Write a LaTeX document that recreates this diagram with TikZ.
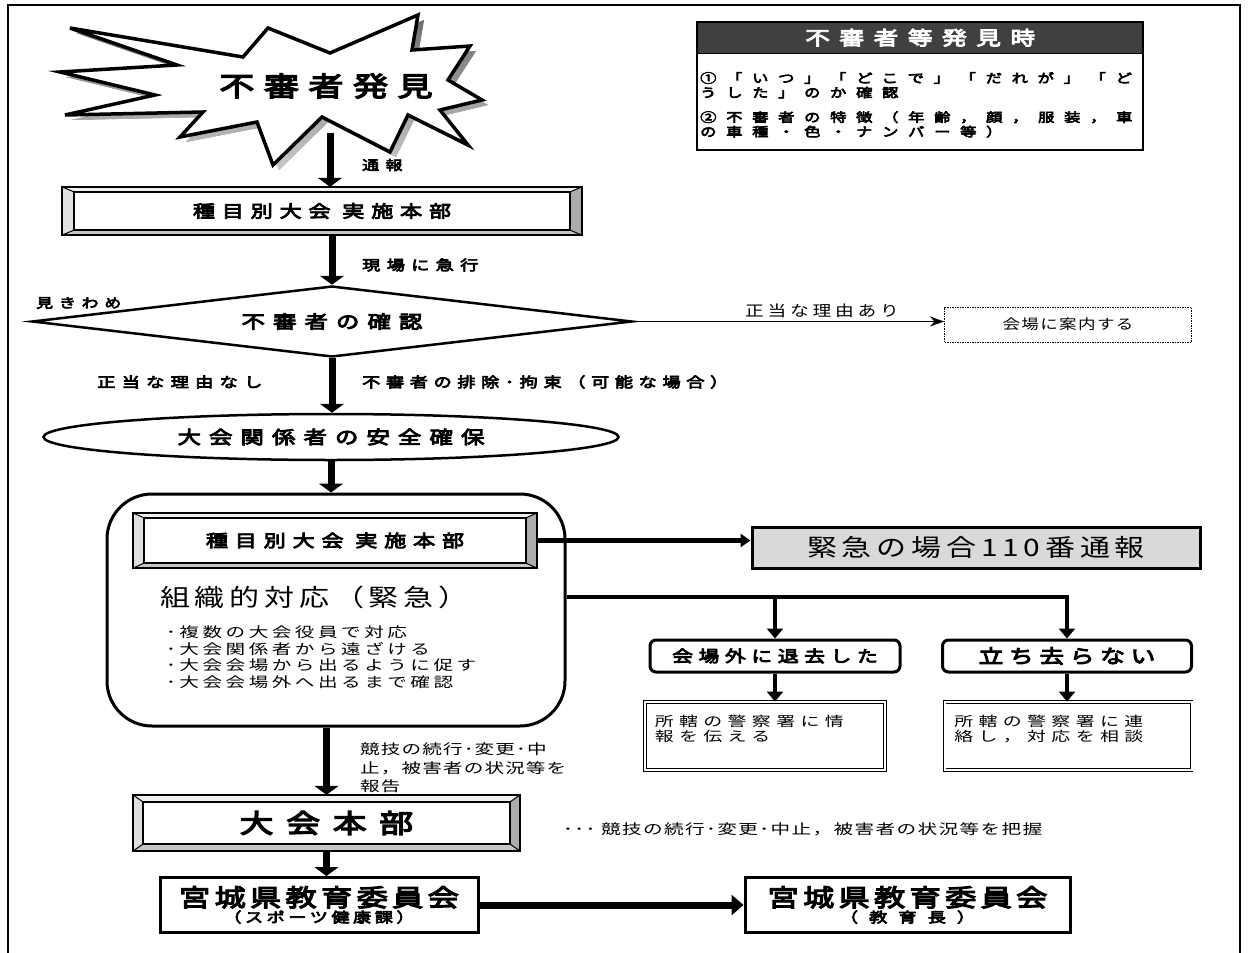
\documentclass[tikz,border=0pt]{standalone}
\usepackage{fontspec}
\usetikzlibrary{arrows.meta,shapes.geometric,calc}
\newcommand\JB[3]{\fontspec[FakeStretch=1.3,FakeBold=5,LetterSpace=#3]{Noto Sans CJK JP}\fontsize{#1}{#2}\selectfont}
\newcommand\JR[3]{\fontspec[FakeStretch=1.25,LetterSpace=#3]{Noto Sans CJK JP}\fontsize{#1}{#2}\selectfont}
\newcommand\JW[3]{\fontspec[FakeStretch=1.4,LetterSpace=#3]{Noto Sans CJK JP}\fontsize{#1}{#2}\selectfont}
\definecolor{hdr}{RGB}{64,64,64}
\definecolor{shade}{RGB}{170,185,215}
\definecolor{callfill}{RGB}{217,217,217}
\newcommand\bevelize[3]{%
 \fill[gray!12] (#1.north west) -- (#1.north east) -- ($(#1.north east)+(-#2,#3)$) -- ($(#1.north west)+(#2,#3)$) -- cycle;
 \fill[gray!25] (#1.north west) -- ($(#1.north west)+(#2,#3)$) -- ($(#1.south west)+(#2,-#3)$) -- (#1.south west) -- cycle;
 \fill[gray!65] (#1.north east) -- ($(#1.north east)+(-#2,#3)$) -- ($(#1.south east)+(-#2,-#3)$) -- (#1.south east) -- cycle;
 \fill[gray!45] (#1.south west) -- ($(#1.south west)+(#2,-#3)$) -- ($(#1.south east)+(-#2,-#3)$) -- (#1.south east) -- cycle;
 \draw[line width=1pt] (#1.north west) -- ++(#2,#3) (#1.north east) -- ++(-#2,#3) (#1.south west) -- ++(#2,-#3) (#1.south east) -- ++(-#2,-#3);
 \draw[line width=2.5pt] (#1.north west) rectangle (#1.south east);
 \draw[line width=2.5pt] ($(#1.north west)+(#2,#3)$) rectangle ($(#1.south east)+(-#2,-#3)$);
}
\begin{document}
\begin{tikzpicture}[x=1pt,y=-1pt,
  every node/.style={inner sep=0pt},
  big/.style={line width=7pt,-{Triangle[width=24pt,length=9pt]}},
  med/.style={line width=4.5pt,-{Triangle[width=16pt,length=10pt]}},
  thinarrow/.style={line width=1.8pt,-{Stealth[length=14pt,width=10pt]}},
  burst/.style={insert path={(70,28) -- (243,57) -- (268,28) -- (330,53) -- (418,15) -- (412,50) -- (470,46) -- (448,80) -- (482,100) -- (440,110) -- (468,145) -- (408,115) -- (390,152) -- (322,117) -- (273,165) -- (257,122) -- (180,137) -- (203,112) -- (65,115) -- (155,95) -- (60,72) -- (177,65) -- cycle}}
]
\useasboundingbox (0,0) rectangle (1248,953);
\fill[white] (0,0) rectangle (1248,953);
% frame
\draw[line width=2pt] (8,953) -- (8,5) -- (1240,5) -- (1240,953);

% starburst
\fill[shade,opacity=0.7,shift={(6,5)},burst];
\draw[line width=3.5pt,fill=white,line join=miter,burst];
\node (found) at (326,86) {\JB{27}{30}{35}不審者発見};
\coordinate (burstS) at (330,133);

% legend
\node[fill=hdr,anchor=north west,minimum width=446pt,minimum height=31pt] (leghead) at (697,22) {};
\node[text=white] (legT) at (leghead.center) {\JB{19}{20}{50}不審者等発見時};
\node[anchor=north west,minimum width=446pt,minimum height=97pt] (legbody) at (697,53) {};
\draw[line width=2pt] (leghead.north west) rectangle (legbody.south east);
\draw[line width=1pt] (leghead.south west) -- (leghead.south east);
\node[anchor=north west,align=left,font={\JB{12.5}{14.5}{78}}] (leg1) at (700,72) {①「いつ」「どこで」「だれが」「ど\\うした」のか確認};
\node[anchor=north west,align=left,font={\JB{12.5}{14.5}{78}}] (leg2) at (700,111) {②不審者の特徴（年齢，顔，服装，車\\の車種・色・ナンバー等）};

% HQ 1
\node[fill=white,minimum width=520pt,minimum height=48pt] (hq1) at (322,211) {};
\bevelize{hq1}{12}{5}
\node (hq1T) at (hq1.center) {\JB{17}{18}{40}種目別大会 実施本部};
\draw[big] (burstS) -- (burstS |- hq1.north);
\node[anchor=west] (lbl1) at (362,165) {\JB{13}{14}{50}通報};

% diamond
\node[diamond,draw,line width=2.5pt,minimum width=600pt,minimum height=71pt,aspect=8.45,fill=white] (chk) at (332,321.5) {};
\node (chkT) at (chk.center) {\JB{18}{18}{45}不審者の確認};
\draw[big] (hq1.south -| chk.north) -- (chk.north);
\node[anchor=west] (lbl2) at (362,265) {\JB{14}{15}{45}現場に急行};
\node[anchor=west] (lbl3) at (36,303) {\JB{13}{14}{45}見きわめ};

% guide box
\node[draw,line width=1pt,dash pattern=on 1.5pt off 1pt,minimum width=247pt,minimum height=35pt] (guide) at (1068,324.5) {\JR{14}{16}{10}会場に案内する};
\draw[thinarrow] (chk.east) -- (chk.east -| guide.west);
\node[anchor=west] (lbl4) at (745,311) {\JR{15}{17}{25}正当な理由あり};

% safety ellipse
\node[ellipse,draw,line width=2.5pt,minimum width=575pt,minimum height=46pt] (safe) at (331,437) {};
\node (safeT) at (safe.center) {\JB{18}{18}{45}大会関係者の安全確保};
\draw[big] (chk.south) -- (chk.south |- safe.north);
\node[anchor=west] (lbl5) at (97,382) {\JB{14}{15}{45}正当な理由なし};
\node[anchor=west] (lbl6) at (362,382) {\JB{14}{15}{40}不審者の排除･拘束（可能な場合）};

% organised response box
\node[draw,line width=3pt,rounded corners=45pt,minimum width=458pt,minimum height=232pt] (org) at (336,610) {};
\draw[big] (safe.south) -- (safe.south |- org.north);
\node[fill=white,minimum width=404pt,minimum height=55pt] (hq2) at (335,540.5) {};
\bevelize{hq2}{11}{5}
\node (hq2T) at (hq2.center) {\JB{17}{18}{40}種目別大会 実施本部};
\node[anchor=west] (orgT) at (160,597) {\JR{24}{28}{20}組織的対応（緊急）};
\node[anchor=north west,align=left,font={\JW{14}{16.5}{25}}] (orgL) at (166,626) {･複数の大会役員で対応\\･大会関係者から遠ざける\\･大会会場から出るように促す\\･大会会場外へ出るまで確認};

% 110
\node[draw,line width=3pt,fill=callfill,minimum width=448pt,minimum height=41pt] (call) at (976,547.5) {\JR{24}{28}{20}緊急の場合110番通報};
\draw[line width=4.5pt,-{Triangle[width=13pt,length=10pt]}] (hq2.east) -- (hq2.east -| call.west);

% branch
\coordinate (yb) at (0,597);
\node[draw,line width=3pt,rounded corners=6pt,minimum width=250pt,minimum height=32pt] (gone) at (775,656) {\JB{16}{18}{35}会場外に退去した};
\node[draw,line width=3pt,rounded corners=6pt,minimum width=249pt,minimum height=32pt] (stay) at (1067,656) {\JB{19}{20}{30}立ち去らない};
\draw[med] (org.east |- yb) -| (stay.north);
\draw[med] (gone.north |- yb) -- (gone.north);

\node[draw,double,double distance=2pt,line width=0.8pt,minimum width=240pt,minimum height=68pt] (info1) at (765,736) {};
\node[draw,double,double distance=2pt,line width=0.8pt,minimum width=247pt,minimum height=68pt] (info2) at (1068,736) {};
\draw[med] (gone.south) -- (gone.south |- info1.north);
\draw[med] (stay.south) -- (stay.south |- info2.north);
\node[anchor=north west,align=left,font={\JW{13.5}{15.5}{40}}] (info1T) at ($(info1.north west)+(10,13)$) {所轄の警察署に情\\報を伝える};
\node[anchor=north west,align=left,font={\JW{13.5}{15.5}{40}}] (info2T) at ($(info2.north west)+(10,13)$) {所轄の警察署に連\\絡し，対応を相談};

% HQ 3
\node[fill=white,minimum width=387pt,minimum height=56pt] (hq3) at (326.5,823) {};
\bevelize{hq3}{10}{7}
\node (hq3T) at (hq3.center) {\JB{26}{28}{20}大 会 本 部};
\draw[big] (hq3.north |- org.south) -- (hq3.north);
\node[anchor=north west,align=left,font={\JW{14}{18.5}{8}}] (rep) at (360,743) {競技の続行･変更･中\\止，被害者の状況等を\\報告};
\node[anchor=west] (grasp) at (563,829) {\JW{14}{18}{10}･･･ 競技の続行･変更･中止，被害者の状況等を把握};

% board of education
\node[draw,line width=3pt,minimum width=318pt,minimum height=55pt,align=center] (moe1) at (319,905) {\JB{24}{26}{18}宮城県教育委員会\\[1pt]\JB{14}{16}{25}（スポーツ健康課）};
\node[draw,line width=3pt,minimum width=325pt,minimum height=55pt,align=center] (moe2) at (907.5,905) {\JB{24}{26}{18}宮城県教育委員会\\[1pt]\JB{14}{16}{50}（ 教 育 長 ）};
\draw[big] (hq3.south) -- (hq3.south |- moe1.north);
\draw[line width=7pt,-{Triangle[width=20pt,length=12pt]}] (moe1.east) -- (moe2.west);
\end{tikzpicture}
\end{document}
